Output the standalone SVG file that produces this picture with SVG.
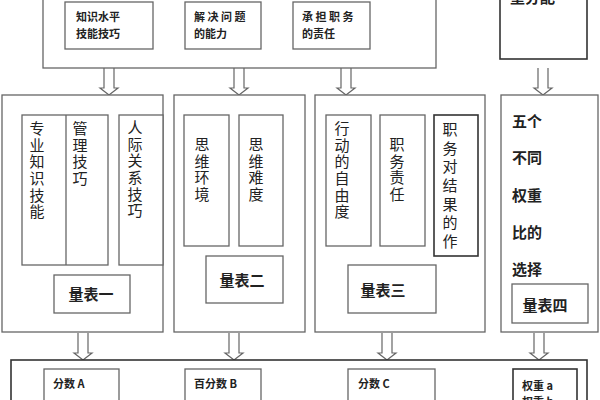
<svg xmlns="http://www.w3.org/2000/svg" width="600" height="400" viewBox="0 0 600 400">
<style>
.box{fill:#fff;stroke:#666;stroke-width:1.3}
.dk{fill:#fff;stroke:#333;stroke-width:1.6}
.arr{fill:#fff;stroke:#666;stroke-width:1.2}
text{font-family:"Noto Sans CJK SC","Liberation Serif",sans-serif;fill:#222}
.s{font-size:11px;font-weight:bold}
.v{font-size:15px;writing-mode:vertical-rl;letter-spacing:1.6px}
.v2{font-size:15px;writing-mode:vertical-rl;letter-spacing:3.6px}
.m{font-size:15px;font-weight:bold}
.lb{font-size:15px;text-anchor:middle;font-weight:bold}
</style>
<defs>
<path id="a" d="M-5,0 V20 H-9 L0,27 L9,20 H5 V0"/>
</defs>
<rect width="600" height="400" fill="#fff"/>
<g id="connectors">
<use href="#a" class="arr" x="109" y="68"/>
<use href="#a" class="arr" x="239" y="68"/>
<use href="#a" class="arr" x="346" y="68"/>
<use href="#a" class="arr" x="543" y="68"/>
<use href="#a" class="arr" x="83" y="333"/>
<use href="#a" class="arr" x="234" y="333"/>
<use href="#a" class="arr" x="387" y="333"/>
<use href="#a" class="arr" x="539" y="333"/>
</g>
<g id="top">
<rect class="box" x="43" y="-10" width="393" height="78"/>
<g id="t1"><rect class="box" x="65" y="2" width="88" height="47"/><text class="s" x="76" y="21">知识水平</text><text class="s" x="76" y="38">技能技巧</text></g>
<g id="t2"><rect class="box" x="185" y="2" width="76" height="47"/><text class="s" x="194" y="21">解 决 问 题</text><text class="s" x="194" y="38">的能力</text></g>
<g id="t3"><rect class="box" x="293" y="2" width="77" height="47"/><text class="s" x="302" y="21">承 担 职 务</text><text class="s" x="302" y="38">的责任</text></g>
</g>
<g id="weight">
<rect class="dk" x="500" y="-10" width="87" height="69"/>
<text class="m" x="510" y="3">重分配</text>
</g>
<g id="col1">
<rect class="box" x="2" y="95" width="161" height="237"/>
<rect class="box" x="22" y="115" width="86" height="150"/>
<line x1="66" y1="115" x2="66" y2="265" stroke="#666" stroke-width="1.3"/>
<rect class="box" x="119" y="115" width="44" height="150"/>
<text class="v" x="37" y="121">专业知识技能</text>
<text class="v" x="80" y="121">管理技巧</text>
<text class="v" x="135" y="120">人际关系技巧</text>
<rect class="box" x="54" y="275" width="76" height="38"/>
<text class="lb" x="91" y="300">量表一</text>
</g>
<g id="col2">
<rect class="box" x="174" y="95" width="131" height="237"/>
<rect class="box" x="184" y="115" width="45" height="131"/>
<rect class="box" x="239" y="115" width="44" height="131"/>
<text class="v" x="202" y="137">思维环境</text>
<text class="v" x="256" y="137">思维难度</text>
<rect class="box" x="206" y="256" width="77" height="47"/>
<text class="lb" x="242" y="286">量表二</text>
</g>
<g id="col3">
<rect class="box" x="315" y="95" width="170" height="237"/>
<rect class="box" x="326" y="115" width="45" height="131"/>
<rect class="box" x="380" y="115" width="45" height="131"/>
<rect class="dk" x="434" y="115" width="44" height="141"/>
<text class="v" x="342" y="121">行动的自由度</text>
<text class="v" x="397" y="137">职务责任</text>
<text class="v2" x="450" y="122">职务对结果的作</text>
<rect class="box" x="348" y="265" width="88" height="48"/>
<text class="lb" x="383" y="296">量表三</text>
</g>
<g id="col4">
<rect class="box" x="501" y="95" width="97" height="237"/>
<text class="m" x="512" y="127">五个</text>
<text class="m" x="512" y="163">不同</text>
<text class="m" x="512" y="201">权重</text>
<text class="m" x="512" y="238">比的</text>
<text class="m" x="512" y="275">选择</text>
<rect class="box" x="512" y="284" width="76" height="39"/>
<text class="lb" x="545" y="311">量表四</text>
</g>
<g id="bottom">
<rect class="dk" x="11" y="360" width="576" height="60"/>
<g id="b1"><rect class="box" x="44" y="369" width="75" height="50"/><text class="s" x="53" y="388">分数 A</text></g>
<g id="b2"><rect class="box" x="185" y="369" width="76" height="50"/><text class="s" x="194" y="388">百分数 B</text></g>
<g id="b3"><rect class="box" x="348" y="369" width="87" height="50"/><text class="s" x="358" y="388">分数 C</text></g>
<g id="b4"><rect class="dk" x="513" y="369" width="64" height="50"/><text class="s" x="522" y="390">权重 a</text><text class="s" x="522" y="406">权重 b</text></g>
</g>
</svg>
